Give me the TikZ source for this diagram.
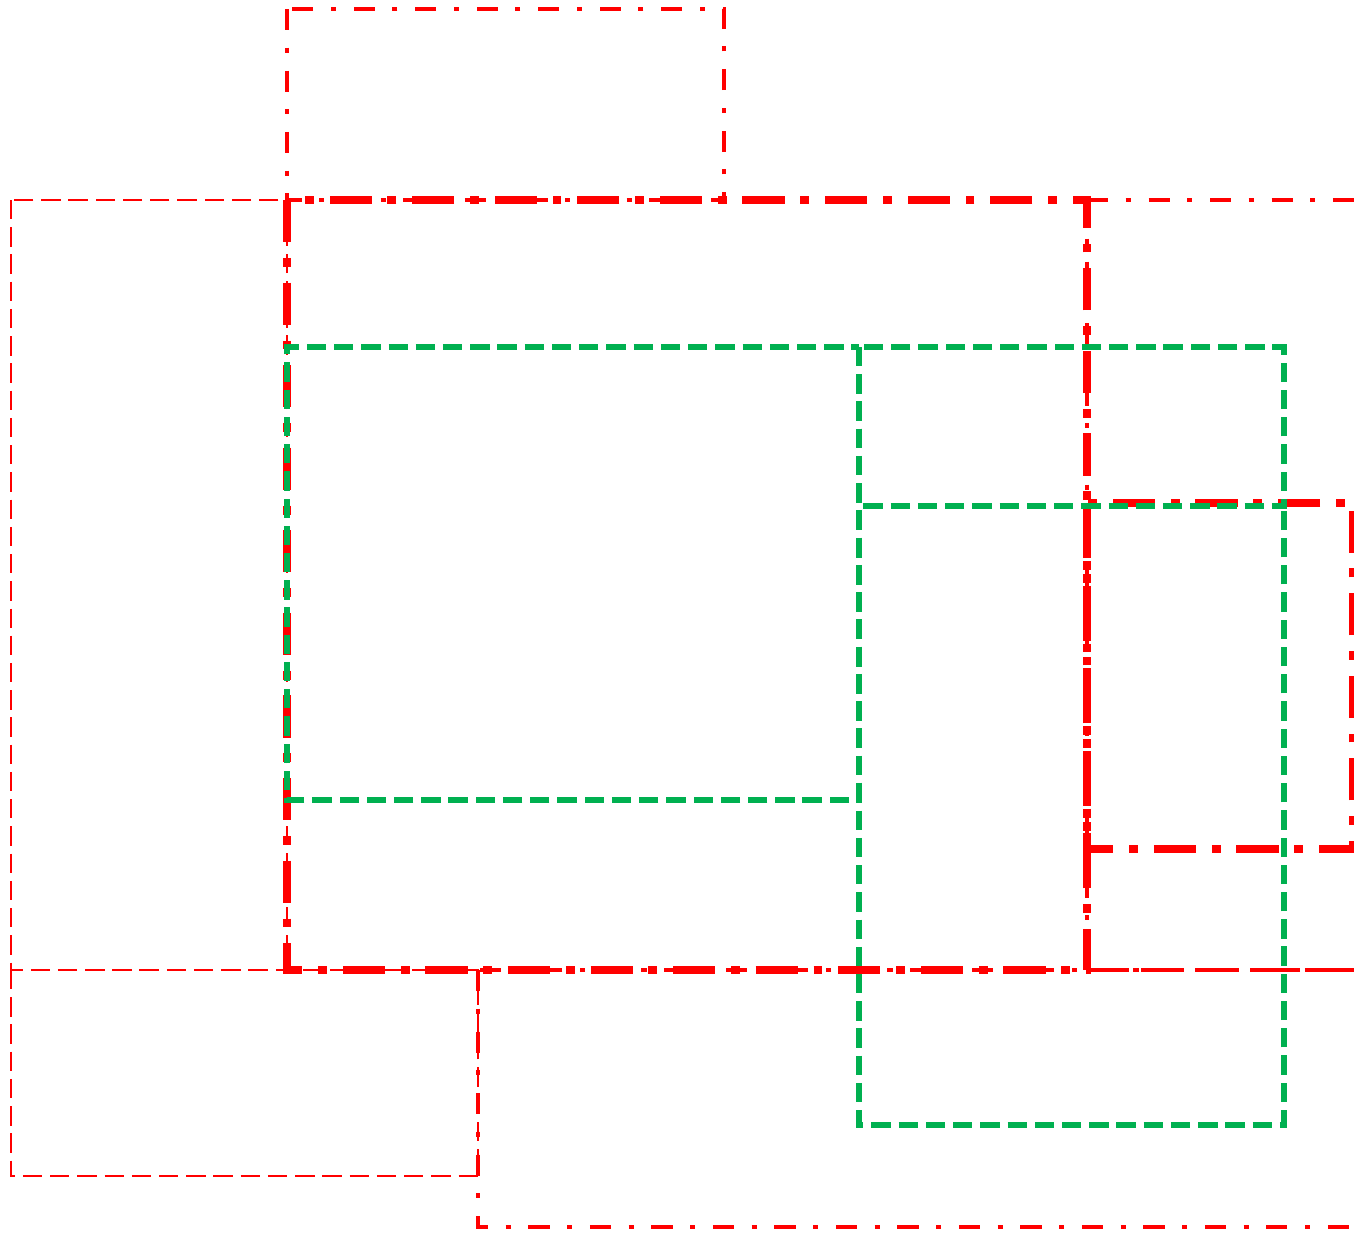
\documentclass[tikz,border=0pt]{standalone}
\usepackage{tikz}
\definecolor{PlanRed}{HTML}{FF0000}
\definecolor{PlanGreen}{HTML}{00B050}
\tikzset{
  thinzone/.style={
    draw=PlanRed,
    line width=1.1pt,
    dash pattern=on 11pt off 4.5pt
  },
  midzone/.style={
    draw=PlanRed,
    line width=2.6pt,
    dash pattern=on 12pt off 10pt on 3pt off 10pt
  },
  thickzone/.style={
    draw=PlanRed,
    line width=5pt,
    dash pattern=on 24pt off 9pt on 5pt off 9pt
  },
  midline/.style={
    draw=PlanRed,
    line width=2.6pt,
    dash pattern=on 24pt off 7pt
  },
  greenzone/.style={
    draw=PlanGreen,
    line width=3.8pt,
    dash pattern=on 11pt off 4.5pt
  }
}
\begin{document}
\begin{tikzpicture}[x=0.02cm,y=-0.02cm]
\path[use as bounding box] (0,0) rectangle (1354,1232);

% thin dashed outlines on the left
\draw[thinzone] (11,200) rectangle (287,970);
\draw[thinzone] (11,970) rectangle (478,1176);

% dash-dot outlines
\draw[midzone] (287,9) rectangle (724,200);
\draw[midzone] (1087,200) -- (1370,200);
\draw[midzone] (1087,200) -- (1087,970);
\draw[midline] (1087,970) -- (1370,970);
\draw[midzone] (478,970) rectangle (1370,1227);
\draw[thickzone] (287,200) rectangle (1087,970);
\draw[thickzone] (1087,503) rectangle (1353,849);

% green dashed outlines, shared edges kept in phase
\draw[greenzone] (859,347) -- (859,800) -- (287,800) -- (287,347) -- cycle;
\draw[greenzone] (859,347) -- (859,506) -- (1284,506) -- (1284,347) -- cycle;
\draw[greenzone, dash phase=12.64pt] (859,506) -- (859,1125) -- (1284,1125) -- (1284,506);

\end{tikzpicture}
\end{document}
